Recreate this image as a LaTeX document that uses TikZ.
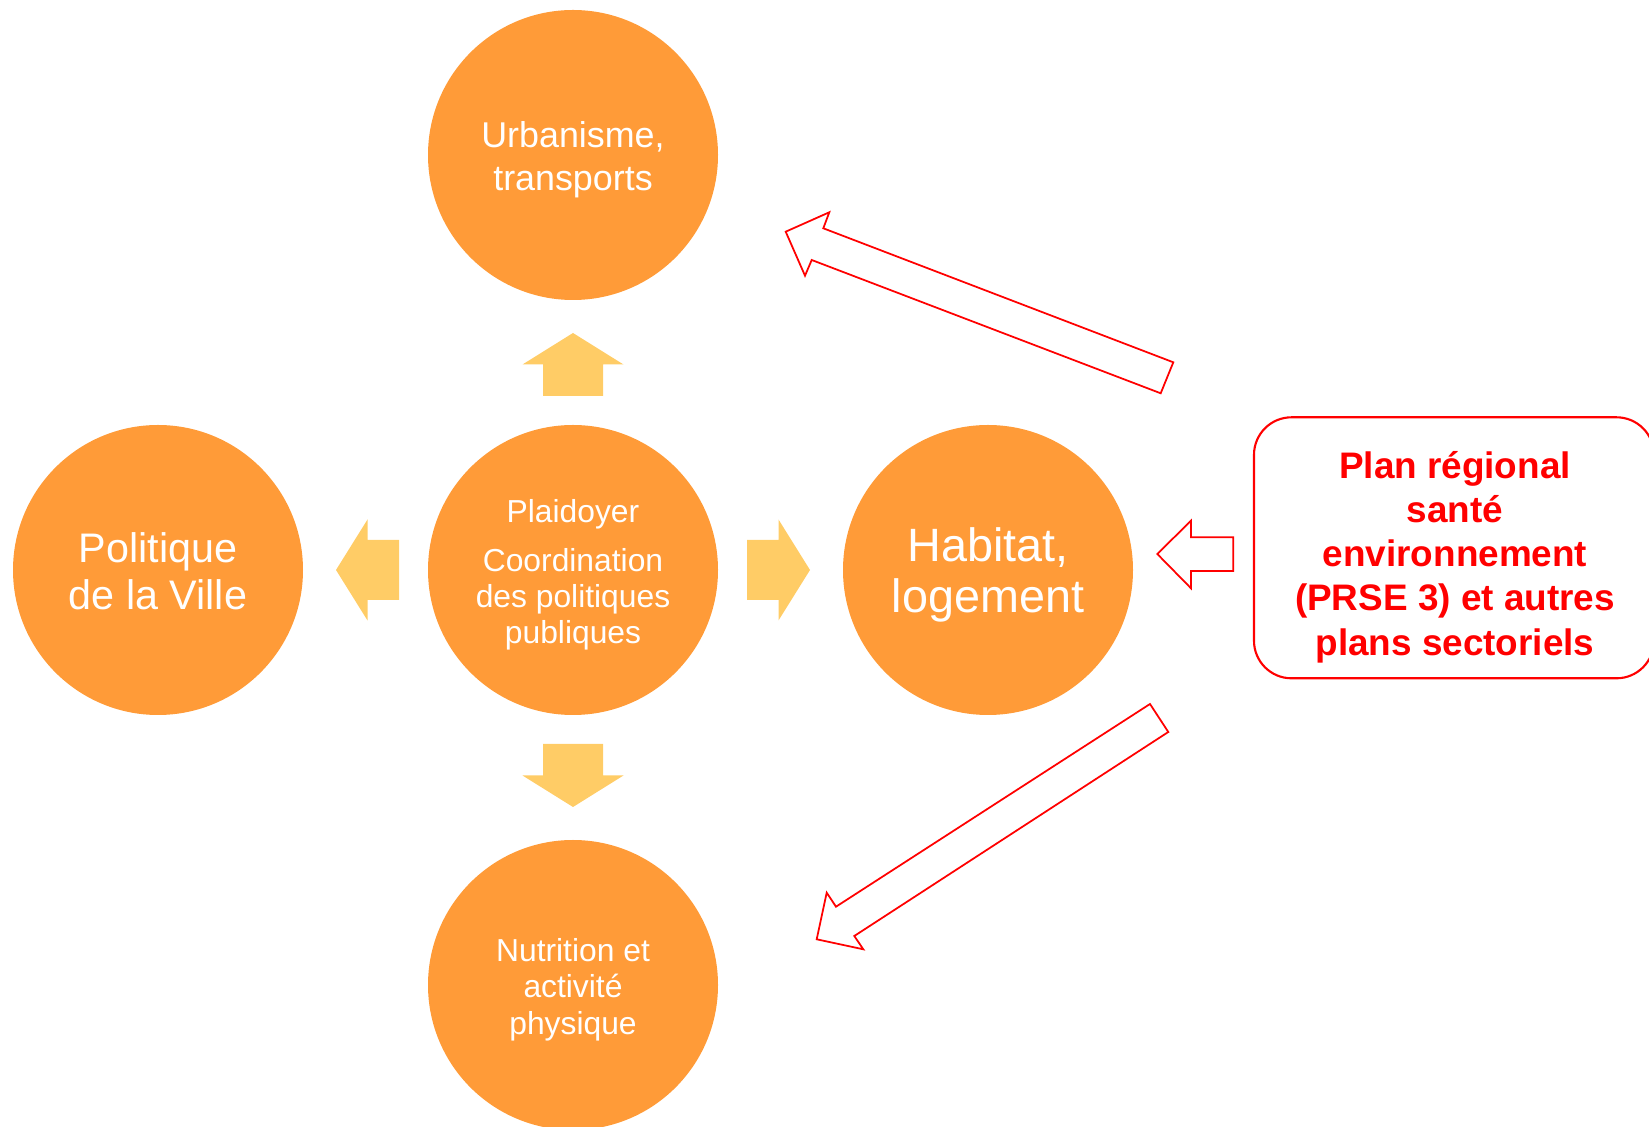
\documentclass[tikz,border=0pt]{standalone}
\usepackage{fontspec}
\setmainfont{Liberation Sans}
\definecolor{circorange}{RGB}{255,155,56}
\definecolor{arrowyellow}{RGB}{255,204,102}
\definecolor{planred}{RGB}{255,0,0}
\begin{document}
\begin{tikzpicture}[
    topic/.style={circle, fill=circorange, minimum size=5.8cm, inner sep=0pt},
    topictext/.style={text=white, align=center, inner sep=0pt},
    yarrow/.style={fill=arrowyellow},
    rarrow/.style={draw=planred, line width=1pt, line join=miter},
    planbox/.style={draw=planred, line width=1.2pt, rounded corners=0.75cm, minimum width=8cm, minimum height=5.22cm},
    plantext/.style={text=planred, align=center, font=\bfseries\fontsize{21}{25.2}\selectfont}]%
    \useasboundingbox (0,0) rectangle (32.98,22.54);

    \node[topic] at (11.46,11.14) (C) {};
    \node[topic] at (11.46,19.44) (U) {};
    \node[topic] at (3.16,11.14) (P) {};
    \node[topic] at (19.76,11.14) (H) {};
    \node[topic] at (11.46,2.84) (N) {};

    \node[topictext, font=\fontsize{18.1}{20.6}\selectfont] at ([yshift=-0.095cm]C.center) (Ctext) {Plaidoyer\\[0.26cm]Coordination\\des politiques\\publiques};
    \node[topictext, font=\fontsize{20.4}{24.5}\selectfont] at ([yshift=-0.1cm]U.center) (Utext) {Urbanisme,\\transports};
    \node[topictext, font=\fontsize{23.5}{26.6}\selectfont] at ([yshift=-0.03cm]P.center) (Ptext) {Politique\\de la Ville};
    \node[topictext, font=\fontsize{26.6}{29.3}\selectfont] at ([yshift=-0.1cm]H.center) (Htext) {Habitat,\\logement};
    \node[topictext, font=\fontsize{18.1}{21}\selectfont] at ([yshift=-0.095cm]N.center) (Ntext) {Nutrition et\\activit\'e\\physique};

    % arrows from the centre
    \fill[yarrow, shift={(C)}, rotate=0] (3.48,-0.6) -- (4.11,-0.6) -- (4.11,-1.01) -- (4.74,0) -- (4.11,1.01) -- (4.11,0.6) -- (3.48,0.6) -- cycle;
    \fill[yarrow, shift={(C)}, rotate=90] (3.48,-0.6) -- (4.11,-0.6) -- (4.11,-1.01) -- (4.74,0) -- (4.11,1.01) -- (4.11,0.6) -- (3.48,0.6) -- cycle;
    \fill[yarrow, shift={(C)}, rotate=180] (3.48,-0.6) -- (4.11,-0.6) -- (4.11,-1.01) -- (4.74,0) -- (4.11,1.01) -- (4.11,0.6) -- (3.48,0.6) -- cycle;
    \fill[yarrow, shift={(C)}, rotate=270] (3.48,-0.6) -- (4.11,-0.6) -- (4.11,-1.01) -- (4.74,0) -- (4.11,1.01) -- (4.11,0.6) -- (3.48,0.6) -- cycle;

    \node[planbox] at (29.08,11.584) (box) {};
    \node[plantext] at (29.1,11.40) (plan) {Plan r\'egional\\sant\'e\\environnement\\(PRSE 3) et autres\\plans sectoriels};

    % hollow arrows from the plan
    \draw[rarrow] (15.714,17.906) -- (16.586,18.294) -- (16.466,17.974) -- (23.466,15.294) -- (23.214,14.674) -- (16.234,17.34) -- (16.1,17.026) -- cycle;
    \draw[rarrow] (23.146,11.46) -- (23.82,12.126) -- (23.82,11.794) -- (24.666,11.794) -- (24.666,11.12) -- (23.82,11.12) -- (23.82,10.774) -- cycle;
    \draw[rarrow] (16.334,3.754) -- (16.534,4.686) -- (16.72,4.406) -- (23.0,8.46) -- (23.366,7.9) -- (17.086,3.82) -- (17.266,3.554) -- cycle;
\end{tikzpicture}
\end{document}
